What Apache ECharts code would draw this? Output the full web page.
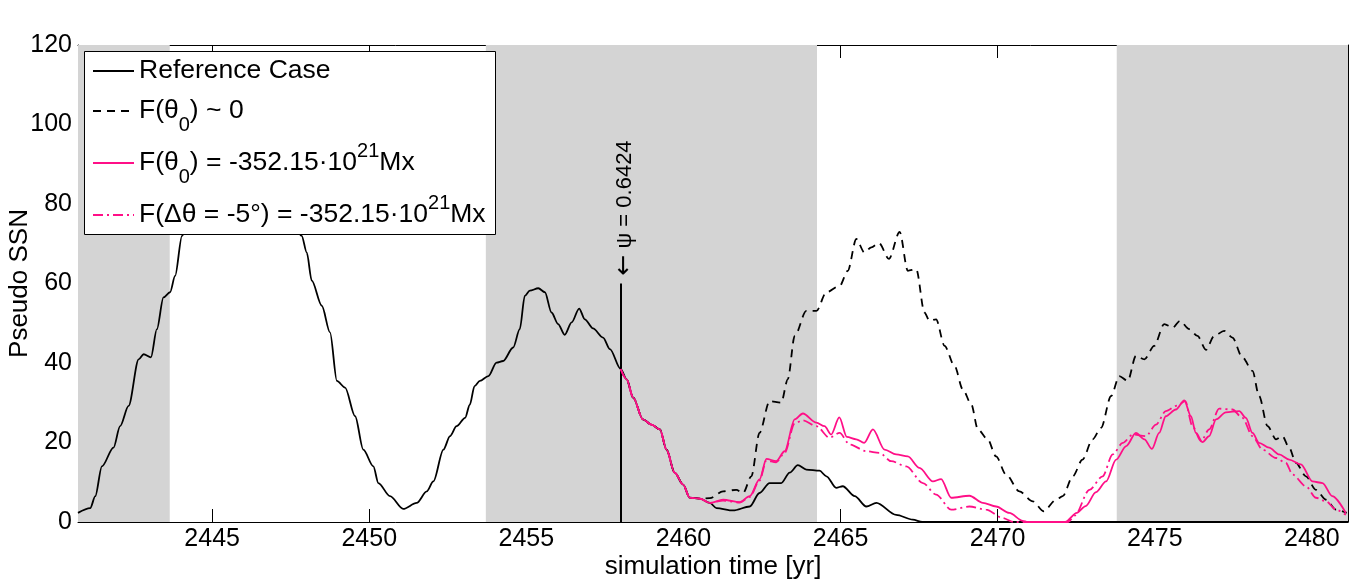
<!DOCTYPE html>
<html lang="en">
<head>
<meta charset="UTF-8">
<title>Pseudo SSN</title>
<style>
  html, body { margin: 0; padding: 0; background: #fff; }
  #chart { width: 1367px; height: 586px; }
</style>
</head>
<body>
<div id="chart"></div>
<script src="https://cdn.jsdelivr.net/npm/echarts@6/dist/echarts.min.js"></script>
<script>
// reference run up to the split at 2458 [year, ssn]
var refHead = [
  [2440.73,2.3],[2441.12,3.5],[2441.28,6.5],[2441.49,14.0],[2441.86,18.7],[2442.07,24.1],[2442.34,29.2],
  [2442.66,40.9],[2442.82,42.2],[2443.05,41.4],[2443.24,48.5],[2443.45,56.5],[2443.66,57.8],[2443.82,61.9],
  [2444.04,72],[2444.4,84],[2444.8,94],[2445.3,101],[2445.8,103],[2446.3,101],[2446.8,93],[2447.3,84],
  [2447.85,72],[2448.01,67.8],[2448.17,60.7],[2448.49,54.4],[2448.75,47.7],[2448.97,35.5],[2449.23,33.8],
  [2449.55,26.6],[2449.81,18.2],[2450.13,14.0],[2450.29,9.8],[2450.66,6.5],[2451.08,3.3],[2451.51,4.8],
  [2451.83,7.7],[2452.04,10.2],[2452.36,18.2],[2452.57,21.6],[2452.78,24.1],[2453.05,26.2],[2453.2,29.5],
  [2453.35,34.2],[2453.52,35.5],[2453.79,36.7],[2454.05,40.1],[2454.26,40.5],[2454.58,43.9],[2454.79,48.5],
  [2454.95,56.9],[2455.11,58.2],[2455.38,58.8],[2455.59,57.8],[2455.80,52.7],[2456.01,49.8],[2456.22,47.1],
  [2456.44,50.2],[2456.68,53.7],[2456.86,51.0],[2457.12,48.7],[2457.44,46.4],[2457.66,43.5]
];
// common to all four runs just after the split
var shared = [
  [2458.0,38.5],[2458.19,35.9],[2458.40,31.3],[2458.71,25.8],[2458.98,24.5],[2459.25,23.3],
  [2459.46,18.2],[2459.72,12.4],[2459.99,9.4],[2460.20,6.1],[2460.52,5.9]
];
var refTail = [
  [2460.84,4.8],[2461.05,3.5],[2461.58,2.9],[2462.11,3.9],[2462.42,7.3],[2462.74,9.8],[2463.11,9.8],
  [2463.38,12.4],[2463.64,14.3],[2463.91,13.2],[2464.33,12.9],[2464.55,11.5],[2464.86,8.6],[2465.07,9.0],
  [2465.45,6.5],[2465.82,3.9],[2466.14,4.8],[2466.77,1.8],[2467.30,0.6],[2467.6,0],[2481.15,0]
];
var zeroTail = [
  [2460.84,6.0],[2461.26,7.7],[2461.68,8.1],[2461.90,7.3],[2462.16,11.5],[2462.42,22.4],[2462.74,30.4],
  [2463.11,30.0],[2463.32,35.9],[2463.54,46.8],[2463.91,53.1],[2464.23,53.1],[2464.55,57.8],[2464.97,59.4],
  [2465.23,63.2],[2465.50,71.2],[2465.76,67.8],[2465.98,69.1],[2466.22,70.2],[2466.54,66.2],[2466.88,73.0],
  [2467.14,63.2],[2467.41,63.6],[2467.67,52.7],[2467.83,50.6],[2468.04,51.0],[2468.31,44.3],[2468.63,39.2],
  [2468.89,33.4],[2469.16,29.6],[2469.37,23.3],[2469.68,20.8],[2469.95,16.5],[2470.27,11.9],[2470.69,7.7],
  [2471.12,5.2],[2471.46,2.7],[2471.86,5.6],[2472.07,6.5],[2472.39,11.5],[2472.70,15.7],[2473.02,20.8],
  [2473.29,23.7],[2473.61,31.7],[2473.87,36.7],[2474.14,35.5],[2474.40,41.8],[2474.67,40.9],[2474.98,44.3],
  [2475.30,49.8],[2475.57,48.9],[2475.80,50.6],[2476.10,48.5],[2476.36,46.8],[2476.63,43.3],[2476.89,46.8],
  [2477.21,48.1],[2477.47,46.4],[2477.79,41.4],[2478.11,38.0],[2478.32,31.7],[2478.59,24.1],[2478.86,20.8],
  [2479.06,21.6],[2479.28,18.7],[2479.49,14.9],[2479.81,11.5],[2480.13,8.1],[2480.45,5.6],[2480.77,3.1],
  [2481.11,2.3]
];
var fluxTail = [
  [2460.84,4.8],[2461.26,5.6],[2461.79,5.0],[2462.11,6.5],[2462.42,10.7],[2462.64,15.9],[2462.95,15.3],
  [2463.22,17.8],[2463.54,25.8],[2463.80,27.3],[2464.23,25.0],[2464.49,24.1],[2464.70,22.0],[2464.96,26.3],
  [2465.20,21.4],[2465.50,20.8],[2465.75,19.9],[2466.03,23.3],[2466.40,18.2],[2466.77,17.0],[2467.14,16.5],
  [2467.51,13.6],[2467.94,10.2],[2468.20,10.8],[2468.52,6.1],[2469.10,6.6],[2469.53,4.8],[2469.95,3.9],
  [2470.37,2.3],[2470.80,0.3],[2470.95,0],[2472.15,0],[2472.52,2.3],[2472.80,4.0],[2473.13,7.5],
  [2473.45,10.2],[2473.77,15.7],[2474.09,19.1],[2474.40,22.4],[2474.67,20.8],[2474.91,18.4],[2475.14,22.4],
  [2475.35,26.6],[2475.67,28.3],[2475.94,30.6],[2476.15,26.6],[2476.31,22.4],[2476.52,20.1],[2476.73,21.6],
  [2476.95,25.8],[2477.26,27.6],[2477.69,27.9],[2477.90,26.2],[2478.11,22.4],[2478.32,19.9],[2478.64,18.7],
  [2478.96,17.0],[2479.28,15.7],[2479.65,14.5],[2480.02,10.2],[2480.34,9.8],[2480.65,6.5],[2481.08,2.3]
];
var shiftTail = [
  [2460.84,4.8],[2461.26,5.4],[2461.79,4.9],[2462.11,6.3],[2462.42,10.4],[2462.64,15.5],[2462.95,15.0],
  [2463.22,17.4],[2463.54,24.8],[2463.80,25.6],[2464.23,24.1],[2464.65,21.2],[2464.97,22.4],[2465.29,19.5],
  [2465.82,17.8],[2466.24,17.4],[2466.61,15.3],[2467.09,14.0],[2467.62,9.8],[2468.04,6.9],[2468.52,3.1],
  [2469.10,3.9],[2469.63,3.1],[2470.16,1.0],[2470.5,0],[2472.25,0],[2472.45,1.6],[2472.92,8.1],
  [2473.34,11.5],[2473.66,17.0],[2473.98,19.9],[2474.30,22.0],[2474.72,21.6],[2475.04,24.5],[2475.35,27.9],
  [2475.72,29.3],[2475.97,30.4],[2476.20,24.1],[2476.47,20.3],[2476.73,23.3],[2477.05,28.5],[2477.47,28.3],
  [2477.79,26.2],[2478.11,21.6],[2478.43,18.2],[2478.86,16.1],[2479.17,14.9],[2479.39,11.9],[2479.81,9.0],
  [2480.13,6.1],[2480.45,5.2],[2480.77,3.1],[2481.08,1.8]
];
// shaded intervals [start, end]
var bands = [[2440.73, 2443.65], [2453.71, 2464.25], [2473.79, 2481.15]];
var xTicks = [2445, 2450, 2455, 2460, 2465, 2470, 2475, 2480];
var xRange = [2440.73, 2481.15];
var psiYear = 2458, psiTop = 60;
var psiText = '{arr|\u2190} \u03c8 = 0.6424';

var names = ['Reference Case', 'F(\u03b80) ~ 0', 'F(\u03b80) = -352.15\u00b71021Mx', 'F(\u0394\u03b8 = -5\u00b0) = -352.15\u00b71021Mx'];
var richNames = {};
richNames[names[0]] = 'Reference Case';
richNames[names[1]] = 'F(\u03b8{sub|0}) ~ 0';
richNames[names[2]] = 'F(\u03b8{sub|0}) = -352.15\u00b710{sup|21}Mx';
richNames[names[3]] = 'F(\u0394\u03b8 = -5\u00b0) = -352.15\u00b710{sup|21}Mx';

var FONT = '"Liberation Sans", Arial, Helvetica, sans-serif';
var PINK = '#ff0f87';

var myChart = echarts.init(document.getElementById('chart'));

function tickAxis(pos, showLabel) {
  return {
    type: 'value', position: pos, min: xRange[0], max: xRange[1],
    axisLine: { show: true, onZero: false, lineStyle: { color: '#000', width: 1 } },
    axisTick: { show: true, inside: true, length: 13, customValues: xTicks, lineStyle: { color: '#000' } },
    axisLabel: {
      show: showLabel, customValues: xTicks, margin: 5, color: '#000', fontSize: 25, fontFamily: FONT,
      formatter: function (v) { return String(v); }
    },
    splitLine: { show: false }
  };
}
function valAxis(pos, showLabel) {
  return {
    type: 'value', position: pos, min: 0, max: 120, interval: 20,
    axisLine: { show: true, onZero: false, lineStyle: { color: '#000', width: 1 } },
    axisTick: { show: true, inside: true, length: 13, lineStyle: { color: '#000' } },
    axisLabel: { show: showLabel, margin: 6, color: '#000', fontSize: 25, fontFamily: FONT },
    splitLine: { show: false }
  };
}

var xBottom = tickAxis('bottom', true);
xBottom.name = 'simulation time [yr]';
xBottom.nameLocation = 'middle';
xBottom.nameGap = 32;
xBottom.nameMoveOverlap = false;
xBottom.nameTextStyle = { color: '#000', fontSize: 26, fontFamily: FONT };
var yLeft = valAxis('left', true);
yLeft.name = 'Pseudo SSN';
yLeft.nameLocation = 'middle';
yLeft.nameGap = 45;
yLeft.nameMoveOverlap = false;
yLeft.nameTextStyle = { color: '#000', fontSize: 26, fontFamily: FONT };

var legendTops = [56, 87, 139, 193];
var legends = names.map(function (n, i) {
  return {
    data: [n], orient: 'vertical', left: 92, top: legendTops[i], padding: 0,
    itemWidth: 41, itemHeight: 30, z: 60, selectedMode: false,
    itemStyle: { opacity: 0, borderWidth: 0 },
    formatter: function (name) { return richNames[name]; },
    textStyle: {
      color: '#000', fontSize: 26.5, fontFamily: FONT, lineHeight: 30,
      rich: {
        sub: { fontSize: 20, fontFamily: FONT, lineHeight: 20, verticalAlign: 'middle', padding: [28, 0, 0, 0] },
        sup: { fontSize: 20, fontFamily: FONT, lineHeight: 20, verticalAlign: 'middle', padding: [0, 0, 24, 0] }
      }
    }
  };
});

function lineSeries(name, data, color, type, z) {
  return {
    name: name, type: 'line', data: data, symbol: 'none', showSymbol: false, smooth: 0.3, smoothMonotone: 'x',
    z: z, silent: true,
    lineStyle: { color: color, width: 1.8, type: type },
    itemStyle: { color: color }
  };
}

var option = {
  animation: false,
  backgroundColor: '#fff',
  grid: { left: 78, right: 19, top: 45, bottom: 64, outerBoundsMode: 'none', containLabel: false },
  xAxis: [xBottom, tickAxis('top', false)],
  yAxis: [yLeft, valAxis('right', false)],
  legend: legends,
  graphic: [{
    type: 'rect', z: 50, silent: true,
    shape: { x: 84.5, y: 51.5, width: 411, height: 183 },
    style: { fill: '#fff', stroke: '#000', lineWidth: 1 }
  }],
  series: [
    {
      type: 'line', data: [], z: 1, silent: true,
      markArea: {
        silent: true,
        itemStyle: { color: '#d4d4d4' },
        data: bands.map(function (b) { return [{ xAxis: b[0] }, { xAxis: b[1] }]; })
      },
      markLine: {
        silent: true, symbol: 'none', label: { show: false },
        lineStyle: { color: '#000', width: 2, type: 'solid' },
        data: [[{ coord: [psiYear, 0] }, { coord: [psiYear, psiTop] }]]
      }
    },
    lineSeries(names[0], refHead.concat(shared, refTail), '#000', 'solid', 3),
    lineSeries(names[1], shared.concat(zeroTail), '#000', [8, 6], 4),
    lineSeries(names[3], shared.concat(shiftTail), PINK, [10, 4, 2, 4], 5),
    lineSeries(names[2], shared.concat(fluxTail), PINK, 'solid', 6)
  ]
};
myChart.setOption(option);

// annotation next to the split line
var p = myChart.convertToPixel({ xAxisIndex: 0, yAxisIndex: 0 }, [psiYear, psiTop]);
myChart.setOption({
  graphic: [{}, {
    type: 'text', z: 40, silent: true,
    x: p[0] + 4, y: p[1] - 8, rotation: Math.PI / 2,
    style: {
      text: psiText, fill: '#000', fontSize: 22, fontFamily: FONT, align: 'left', verticalAlign: 'middle',
      rich: { arr: { fontSize: 25, fontFamily: '"DejaVu Sans", sans-serif', fill: '#000' } }
    }
  }]
});
</script>
</body>
</html>
